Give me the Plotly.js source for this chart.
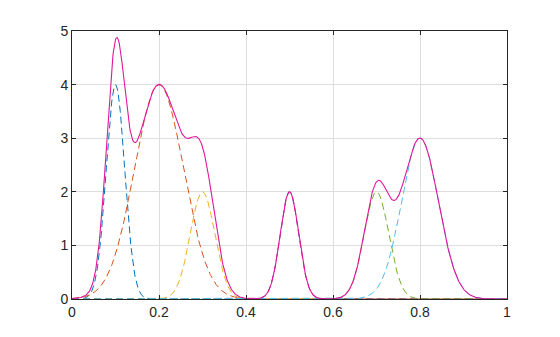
<!DOCTYPE html>
<html>
<head>
<meta charset="utf-8">
<script src="https://cdn.plot.ly/plotly-3.0.1.min.js"></script>
<style>html,body{margin:0;padding:0;background:#fff;}#chart{width:560px;height:337px;}</style>
</head>
<body>
<div id="chart"></div>
<script>
// Gaussian components: centre, peak height, width
var centers = [0.1, 0.2, 0.3, 0.5, 0.7, 0.8];
var heights = [4, 4, 2, 2, 2, 3];
var widths  = [0.03, 0.08, 0.04, 0.03, 0.04, 0.06];
var colors  = ['#0072BD', '#D95319', '#EDB120', '#7E2F8E', '#77AC30', '#4DBEEE'];
var sumColor = '#e0169b';
var xTicks = [0, 0.2, 0.4, 0.6, 0.8, 1];
var xTickText = ['0', '0.2', '0.4', '0.6', '0.8', '1'];
var yTicks = [0, 1, 2, 3, 4, 5];

var N = 1000;
var xs = [];
for (var i = 0; i <= N; i++) xs.push(i / N);

var traces = [];
var total = xs.map(function(){ return 0; });
for (var k = 0; k < centers.length; k++) {
  var ys = xs.map(function(x){
    var d = (x - centers[k]) / widths[k];
    return heights[k] * Math.exp(-d * d);
  });
  ys.forEach(function(v, j){ total[j] += v; });
  traces.push({x: xs, y: ys, type: 'scatter', mode: 'lines',
    line: {color: colors[k], width: 1, dash: '7px,4px'}, hoverinfo: 'skip'});
}
traces.push({x: xs, y: total, type: 'scatter', mode: 'lines',
  line: {color: sumColor, width: 1.1}, hoverinfo: 'skip'});

var axisCommon = {
  showgrid: true, gridcolor: '#dedede', gridwidth: 1,
  showline: true, linecolor: '#262626', linewidth: 1, mirror: 'ticks',
  ticks: 'inside', ticklen: 4, tickcolor: '#262626',
  zeroline: false, tickfont: {family: 'Liberation Sans, Arial, sans-serif', size: 14, color: '#262626'}
};
var layout = {
  width: 560, height: 337,
  margin: {l: 72, r: 53, t: 31, b: 38},
  showlegend: false,
  paper_bgcolor: '#ffffff', plot_bgcolor: '#ffffff',
  xaxis: Object.assign({}, axisCommon, {range: [0, 1], tickvals: xTicks, ticktext: xTickText}),
  yaxis: Object.assign({}, axisCommon, {range: [0, 5], tickvals: yTicks})
};
Plotly.newPlot('chart', traces, layout, {staticPlot: true, displayModeBar: false});
</script>
</body>
</html>
